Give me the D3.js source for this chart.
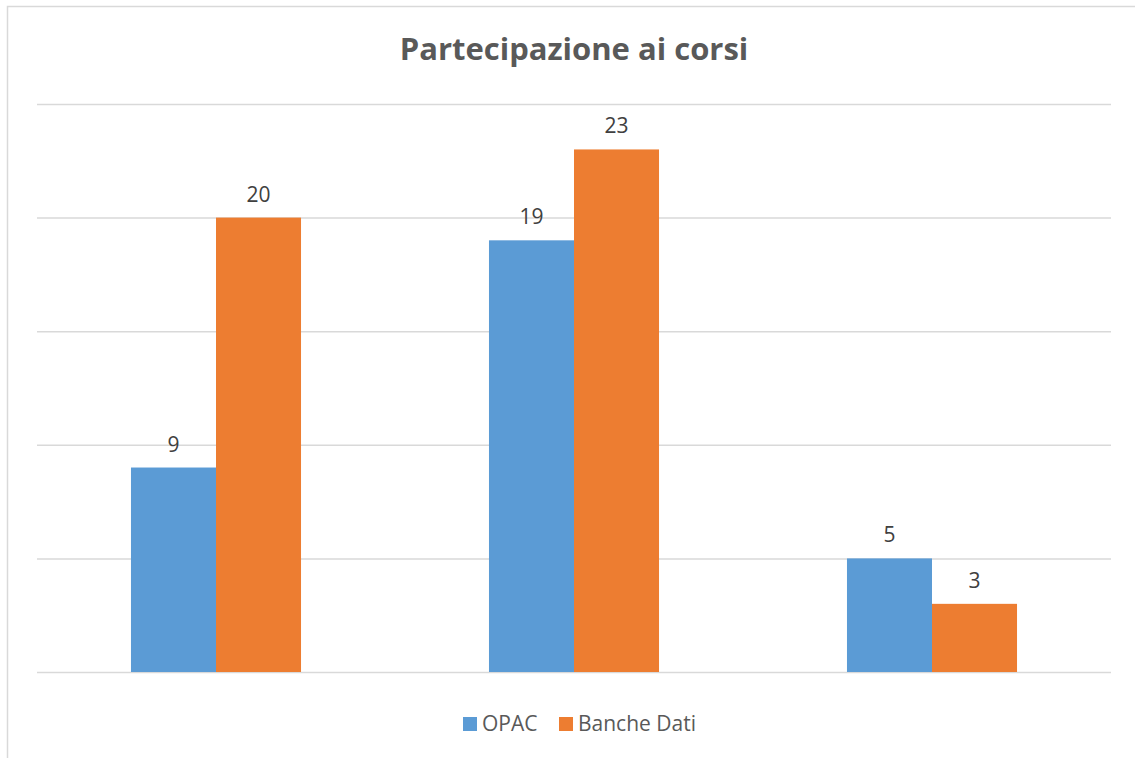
<!DOCTYPE html>
<html>
<head>
<meta charset="utf-8">
<script src="https://cdn.jsdelivr.net/npm/d3@7"></script>
<style>
  body { margin: 0; background: #fff; }
  svg { display: block; }
</style>
</head>
<body>
<div id="chart"></div>
<script>
// chart data
var categories = ["Corso 1", "Corso 2", "Corso 3"];
var seriesNames = ["OPAC", "Banche Dati"];
var opacValues = [9, 19, 5];
var bancheValues = [20, 23, 3];
var yTicks = [0, 5, 10, 15, 20, 25];

var colors = ["#5B9BD5", "#ED7D31"];

var W = 1135, H = 758;
var margin = { top: 104, left: 37, right: 24, bottom: 86 };
var width = W - margin.left - margin.right;
var height = 672 - margin.top;

var svg = d3.select("#chart").append("svg")
  .attr("width", W)
  .attr("height", H);

// outer frame of the chart area (only left/top visible)
svg.append("rect")
  .attr("x", 7.5).attr("y", 6.5)
  .attr("width", W + 20).attr("height", H + 20)
  .attr("fill", "#fff")
  .attr("stroke", "#d9d9d9")
  .attr("stroke-width", 1.5);

var g = svg.append("g")
  .attr("transform", `translate(${margin.left}, ${margin.top})`);

var x0 = d3.scaleBand()
  .domain(categories)
  .range([0, width])
  .paddingInner(0.525)
  .paddingOuter(0.2625);

var x1 = d3.scaleBand()
  .domain(seriesNames)
  .range([0, x0.bandwidth()]);

var y = d3.scaleLinear()
  .domain([0, 25])
  .range([height, 0]);

// gridlines
var grid = g.append("g")
  .call(d3.axisLeft(y).tickValues(yTicks).tickSize(-width).tickFormat(""));
grid.select(".domain").remove();
grid.selectAll(".tick line")
  .attr("stroke", "#d9d9d9")
  .attr("stroke-width", 1.5);

var rows = categories.map(function(c, i) {
  return { cat: c, vals: [opacValues[i], bancheValues[i]] };
});

var groups = g.selectAll(".grp")
  .data(rows)
  .enter()
  .append("g")
  .attr("transform", d => `translate(${x0(d.cat)}, 0)`);

groups.selectAll("rect")
  .data(d => d.vals.map((v, k) => ({ name: seriesNames[k], v: v, k: k })))
  .enter()
  .append("rect")
  .attr("x", d => x1(d.name))
  .attr("y", d => y(d.v))
  .attr("width", x1.bandwidth())
  .attr("height", d => height - y(d.v))
  .attr("fill", d => colors[d.k]);

groups.selectAll("text")
  .data(d => d.vals.map((v, k) => ({ name: seriesNames[k], v: v, k: k })))
  .enter()
  .append("text")
  .attr("x", d => x1(d.name) + x1.bandwidth() / 2)
  .attr("y", d => y(d.v) - 16)
  .attr("text-anchor", "middle")
  .attr("font-family", "'Open Sans', sans-serif")
  .attr("font-size", "21px")
  .attr("fill", "#404040")
  .text(d => d.v);

// title
svg.append("text")
  .attr("x", margin.left + width / 2)
  .attr("y", 60)
  .attr("text-anchor", "middle")
  .attr("font-family", "'Open Sans', sans-serif")
  .attr("font-weight", "bold")
  .attr("font-size", "31px")
  .attr("fill", "#595959")
  .text("Partecipazione ai corsi");

// legend
var legend = svg.append("g")
  .attr("transform", "translate(463, 724)");
var legendX = [0, 96];
seriesNames.forEach(function(name, k) {
  var item = legend.append("g").attr("transform", `translate(${legendX[k]}, 0)`);
  item.append("rect")
    .attr("x", 0).attr("y", -7)
    .attr("width", 14).attr("height", 14)
    .attr("fill", colors[k]);
  item.append("text")
    .attr("x", 19).attr("y", 7)
    .attr("font-family", "'Open Sans', sans-serif")
    .attr("font-size", "21px")
    .attr("fill", "#595959")
    .text(name);
});
</script>
</body>
</html>
